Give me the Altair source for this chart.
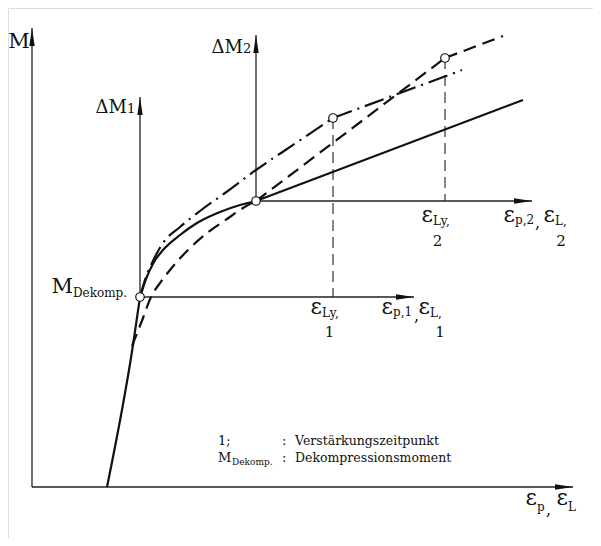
import altair as alt
import pandas as pd

# ---------------- data (e: strain, m: moment; origin at the main axes crossing) ----------------
# solid curve (elastic branch, curved branch, straight branch)
solid_a_e = [75, 101, 108]
solid_a_m = [0, 142, 190]
solid_b_e = [108, 114, 122, 131, 148, 165, 188, 208, 224]
solid_b_m = [190, 208, 225, 237, 252, 264, 275, 282, 286]
solid_c_e = [224, 491]
solid_c_m = [286, 387]

# dash-dot curve
dashdot_a_e = [108, 114, 120, 131, 148, 168, 193, 224, 264, 301]
dashdot_a_m = [190, 210, 224, 244, 260, 276, 294, 317, 344, 369]
dashdot_b_e = [301, 430]
dashdot_b_m = [369, 417]

# dashed curve
dashed_a_e = [100, 111, 119, 128, 138, 156, 175, 195, 211, 224]
dashed_a_m = [141, 169, 190, 204, 217, 237, 254, 268, 279, 286]
dashed_b_e = [224, 413]
dashed_b_m = [286, 429]
dashed_c_e = [413, 471]
dashed_c_m = [429, 451]

# marked points: M_Dekomp, point 2, eps_Ly,1, eps_Ly,2
pt_e = [108, 224, 301, 413]
pt_m = [190, 286, 369, 429]

# axes (start -> arrow tip)
ax_e1 = [0, 0, 108, 108, 224, 224]
ax_m1 = [0, 0, 190, 190, 286, 286]
ax_e2 = [541, 0, 382, 108, 500, 224]
ax_m2 = [0, 459, 190, 390, 286, 452]

# dashed drop lines
drop_e = [301, 413]
drop_m_top = [369, 429]
drop_m_bot = [190, 286]

# labels
lbl_text = ["M", "ΔM", "2", "ΔM", "1", "M", "Dekomp.",
            "ε", "Ly,", "1", "ε", "p,1", ",", "ε", "L,", "1",
            "ε", "Ly,", "2", "ε", "p,2", ",", "ε", "L,", "2",
            "ε", "p", ",", "ε", "L",
            "1;", ":", "Verstärkungszeitpunkt", "M", "Dekomp.", ":", "Dekompressionsmoment"]
lbl_e = [-13, 211, 211, 95, 95, 41, 41,
         290, 290, 297.5, 361, 361, 382, 398, 398, 408,
         401, 401, 405.5, 483, 483, 503, 523, 523, 529,
         505, 505, 514, 536, 536,
         186, 250, 263, 186, 200, 250, 263]
lbl_m = [439, 434, 434, 374, 374, 194, 190,
         173, 170, 150, 173, 171, 166, 173, 170, 150,
         265, 262, 241, 265, 263, 259, 265, 262, 241,
         -18, -24, -28, -18, -24,
         42, 42, 42, 25, 22, 25, 25]
lbl_size = [21, 18, 13, 18, 13, 21, 12,
            22, 12, 15, 22, 12, 16, 22, 12, 15,
            22, 12, 15, 22, 12, 16, 22, 12, 15,
            22, 12, 16, 22, 12,
            13, 13, 12.5, 13, 9, 13, 12.5]
lbl_align = ["center", "right", "left", "right", "left", "right", "left",
             "right", "left", "center", "right", "left", "left", "right", "left", "center",
             "right", "left", "center", "right", "left", "left", "right", "left", "center",
             "right", "left", "left", "right", "left",
             "left", "left", "left", "left", "left", "left", "left"]

# ---------------- build tables ----------------
def pieces(*segs):
    rows = []
    for k, (es, ms) in enumerate(segs):
        for i, (e, m) in enumerate(zip(es, ms)):
            rows.append({"e": e, "m": m, "seg": k, "i": i})
    return pd.DataFrame(rows)

solid_df = pieces((solid_a_e, solid_a_m), (solid_b_e, solid_b_m), (solid_c_e, solid_c_m))
dashdot_df = pieces((dashdot_a_e, dashdot_a_m), (dashdot_b_e, dashdot_b_m))
dashed_df = pieces((dashed_a_e, dashed_a_m), (dashed_b_e, dashed_b_m), (dashed_c_e, dashed_c_m))

axes_df = pd.DataFrame({"e1": ax_e1, "m1": ax_m1, "e2": ax_e2, "m2": ax_m2})
axes_df["ang"] = [0 if m1 == m2 else 270 for m1, m2 in zip(ax_m1, ax_m2)]
drop_df = pd.DataFrame({"e": drop_e, "m1": drop_m_top, "m2": drop_m_bot})
pts_df = pd.DataFrame({"e": pt_e, "m": pt_m})
lbl_df = pd.DataFrame({"e": lbl_e, "m": lbl_m, "t": lbl_text, "fs": lbl_size, "al": lbl_align})

W, H = 585, 530
xs = alt.Scale(domain=[-24, 561], nice=False, zero=False)
ys = alt.Scale(domain=[-51, 479], nice=False, zero=False)
X = lambda f: alt.X(f, type="quantitative", scale=xs, axis=None)
Y = lambda f: alt.Y(f, type="quantitative", scale=ys, axis=None)

INK = "#111111"
SERIF = "DejaVu Serif"

axes_rules = alt.Chart(axes_df).mark_rule(color="#222222", strokeWidth=1.3).encode(
    x=X("e1"), y=Y("m1"), x2="e2", y2="m2")

arrow_path = "M0,0L-2,-0.3L-2,0.3Z"
arrows = alt.Chart(axes_df).mark_point(shape=arrow_path, filled=True, color="#111111",
                                       opacity=1, size=324).encode(
    x=X("e2"), y=Y("m2"), angle=alt.Angle("ang:Q", scale=None))

drops = alt.Chart(drop_df).mark_rule(color="#222222", strokeWidth=1.1, strokeDash=[11, 6]).encode(
    x=X("e"), y=Y("m1"), y2="m2")

def curve(df, **kw):
    return alt.Chart(df).mark_line(interpolate="monotone", color=INK, **kw).encode(
        x=X("e"), y=Y("m"), detail="seg:N", order="i:Q")

solid = curve(solid_df, strokeWidth=2.2)
dashdot = curve(dashdot_df, strokeWidth=2.2, strokeDash=[20, 6, 2, 6])
dashed = curve(dashed_df, strokeWidth=2.2, strokeDash=[13, 7])

points = alt.Chart(pts_df).mark_point(shape="circle", filled=True, fill="white", stroke="#111111",
                                      strokeWidth=1.2, opacity=1, size=72).encode(
    x=X("e"), y=Y("m"))

texts = []
for al in ["left", "right", "center"]:
    sub = lbl_df[lbl_df["al"] == al]
    texts.append(alt.Chart(sub).mark_text(align=al, baseline="alphabetic", font=SERIF,
                                          color="#111111").encode(
        x=X("e"), y=Y("m"), text="t:N", size=alt.Size("fs:Q", scale=None)))

chart = alt.layer(axes_rules, drops, solid, dashdot, dashed, arrows, points, *texts).properties(
    width=W, height=H, padding=0, autosize=alt.AutoSizeParams(type="none")
).configure_view(stroke=None).configure(background="white")

chart.save("out.html", embed_options={"renderer": "svg", "actions": False})
